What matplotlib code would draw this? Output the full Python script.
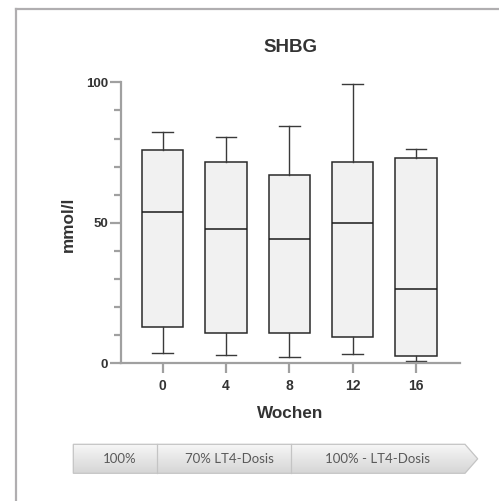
import matplotlib
matplotlib.use("Agg")
import matplotlib.pyplot as plt
import numpy as np
from matplotlib.patches import Polygon
from matplotlib.ticker import MultipleLocator

weeks = ["0", "4", "8", "12", "16"]
whisker_low = [3.6, 3.0, 2.1, 3.3, 0.8]
q1 = [13.0, 10.7, 10.7, 9.5, 2.7]
median = [53.7, 47.7, 44.1, 49.8, 26.3]
q3 = [76.0, 71.5, 67.0, 71.5, 73.0]
whisker_high = [82.2, 80.4, 84.6, 99.4, 76.3]
phases = ["100%", "70% LT4-Dosis", "100% - LT4-Dosis"]

W, H = 499, 501
fig = plt.figure(figsize=(W / 100, H / 100), dpi=100)
fig.patch.set_facecolor("white")

def fx(px):
    return px / W

def fy(py):
    return 1 - py / H

# outer frame lines (left and top)
fig.add_artist(plt.Line2D([fx(16), fx(16)], [0, fy(8.5)], color="#b0aeb0", lw=1.6, transform=fig.transFigure))
fig.add_artist(plt.Line2D([fx(16), 1], [fy(8.5), fy(8.5)], color="#b0aeb0", lw=1.6, transform=fig.transFigure))

ax = fig.add_axes([fx(121), fy(363.3), fx(460) - fx(121), fy(82.3) - fy(363.3)])
ax.set_facecolor("none")

stats = []
for i in range(len(weeks)):
    stats.append(dict(med=median[i], q1=q1[i], q3=q3[i], whislo=whisker_low[i],
                      whishi=whisker_high[i], fliers=[], label=weeks[i]))

positions = np.arange(len(weeks))
ax.bxp(stats, positions=positions, widths=0.65, capwidths=0.33, patch_artist=True,
       showfliers=False,
       boxprops=dict(facecolor="#f1f1f1", edgecolor="#2a2a2a", linewidth=1.1),
       medianprops=dict(color="#1a1a1a", linewidth=1.1),
       whiskerprops=dict(color="#3a3a3a", linewidth=1.0),
       capprops=dict(color="#3a3a3a", linewidth=1.0))

ax.set_xlim(-(162.7 - 121) / 63.3, 4 + (460 - 416) / 63.3)
ax.set_ylim(0, 100)

for s in ["top", "right"]:
    ax.spines[s].set_visible(False)
for s in ["left", "bottom"]:
    ax.spines[s].set_color("#a0a0a0")
    ax.spines[s].set_linewidth(1.6)

ax.set_yticks([0, 50, 100])
ax.yaxis.set_minor_locator(MultipleLocator(10))
ax.tick_params(axis="y", which="major", length=8, width=1.6, color="#a0a0a0",
               labelsize=9.5, labelcolor="#333333", pad=1.5)
ax.tick_params(axis="y", which="minor", length=5, width=1.6, color="#a0a0a0")
ax.tick_params(axis="x", which="major", length=7, width=1.6, color="#a0a0a0",
               labelsize=10, labelcolor="#333333", pad=4.5)
ax.set_xticks(positions)
ax.set_xticklabels(weeks)
for lab in ax.get_xticklabels() + ax.get_yticklabels():
    lab.set_fontweight("bold")
    lab.set_family("Liberation Sans")

ax.set_title("SHBG", fontsize=13.5, fontweight="bold", color="#333333",
             family="Liberation Sans", pad=0, y=(fy(47) - fy(363.3)) / (fy(82.3) - fy(363.3)), va="center")

fig.text(fx(290), fy(414), "Wochen", ha="center", va="center", fontsize=12.3,
         fontweight="bold", color="#333333", family="Liberation Sans")
fig.text(fx(68), fy(224), "mmol/l", ha="center", va="center", rotation=90, fontsize=12.3,
         fontweight="bold", color="#333333", family="Liberation Sans")

# bottom phase arrow band
bx = fig.add_axes([0, 0, 1, 1])
bx.set_xlim(0, W)
bx.set_ylim(H, 0)
bx.axis("off")
bx.patch.set_alpha(0)
x0, x1, xt = 73.3, 465.0, 477.7
y0, y1 = 444.3, 473.3
verts = [(x0, y0), (x1, y0), (xt, (y0 + y1) / 2), (x1, y1), (x0, y1)]
grad = np.linspace(0, 1, 100).reshape(-1, 1)
cmap = matplotlib.colors.LinearSegmentedColormap.from_list("g", ["#f7f7f7", "#e6e6e6", "#d6d6d6"])
im = bx.imshow(grad, extent=(x0, xt, y1, y0), aspect="auto", cmap=cmap, origin="upper", zorder=1)
poly = Polygon(verts, closed=True, facecolor="none", edgecolor="#c4c4c4", lw=0.9, zorder=2)
bx.add_patch(poly)
im.set_clip_path(poly)
for dx in [156.7, 291.3]:
    bx.plot([dx, dx], [y0, y1], color="#c4c4c4", lw=0.9, zorder=3)
for txt, cx in zip(phases, [120, 229, 377.7]):
    bx.text(cx, (y0 + y1) / 2, txt, ha="center", va="center", fontsize=9.5,
            color="#5a5a5a", family="Lato", zorder=4)

fig.savefig("out.png", dpi=100)
